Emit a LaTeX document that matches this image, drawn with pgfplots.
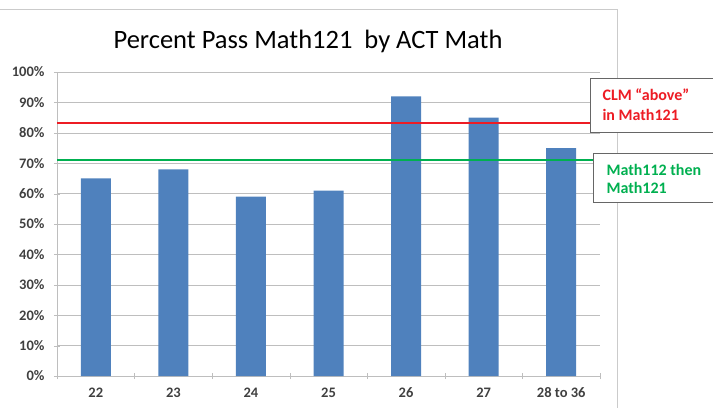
\documentclass[border=0pt]{standalone}
\usepackage{pgfplots}
\pgfplotsset{compat=1.18}
\usepackage{fontspec}
\setmainfont{Carlito}
\definecolor{barblue}{RGB}{79,129,189}
\definecolor{gridgray}{RGB}{190,190,190}
\definecolor{clmred}{RGB}{237,28,36}
\definecolor{mgreen}{RGB}{0,176,80}
\definecolor{labgray}{RGB}{64,64,64}

\begin{document}
\begin{tikzpicture}
\path[use as bounding box] (0pt,0pt) rectangle (713pt,408pt);
% chart frame
\draw[gridgray!80] (0pt,399pt) -- (617pt,399pt) -- (617pt,0pt);

\begin{axis}[
    at={(57pt,32pt)}, anchor=south west,
    scale only axis,
    width=543pt, height=304pt,
    ybar, bar width=30pt,
    xmin=-0.5, xmax=6.5,
    ymin=0, ymax=100,
    ytick={0,10,...,100},
    yticklabel={\pgfmathprintnumber{\tick}\%},
    xtick={0,...,6},
    xticklabels={22,23,24,25,26,27,28 to 36},
    minor xtick={-0.5,0.5,...,6.5},
    major x tick style={draw=none},
    minor tick length=6pt,
    major tick length=6pt,
    tick align=outside,
    xtick pos=bottom, ytick pos=left,
    axis lines=left,
    axis line style={gridgray, -},
    tick style={gridgray},
    ymajorgrids, grid style={gridgray},
    ticklabel style={font=\bfseries\fontsize{14.5}{14.5}\selectfont, text=labgray},
    xticklabel style={yshift=-5pt},
    yticklabel style={xshift=-6pt},
    /pgf/number format/assume math mode=true,
    clip=false,
]
\addplot[fill=barblue, draw=none] coordinates {
  (0,65) (1,68) (2,59) (3,61) (4,92) (5,85) (6,75)
};
\addplot[sharp plot, clmred, line width=2.2pt] coordinates {(-0.5,83.3) (6.4,83.3)};
\addplot[sharp plot, mgreen, line width=2.2pt] coordinates {(-0.5,71) (6.45,71)};
\end{axis}

% title
\node[font=\fontsize{26.5}{26.5}\selectfont] at (308pt,367pt) {Percent Pass Math121\ \ by ACT Math};

% legend boxes
\node[draw=black!60, fill=white, minimum width=124pt, minimum height=54pt, anchor=north west,
      inner sep=0pt] at (590pt,330pt) {};
\node[anchor=west, align=left, text=clmred, font=\bfseries\fontsize{16}{20}\selectfont]
  at (599pt,303pt) {CLM ``above''\\in Math121};
\node[draw=black!60, fill=white, minimum width=121pt, minimum height=49pt, anchor=north west,
      inner sep=0pt] at (593pt,255pt) {};
\node[anchor=west, align=left, text=mgreen, font=\bfseries\fontsize{16}{18}\selectfont]
  at (603pt,229pt) {Math112 then\\Math121};
\end{tikzpicture}
\end{document}
